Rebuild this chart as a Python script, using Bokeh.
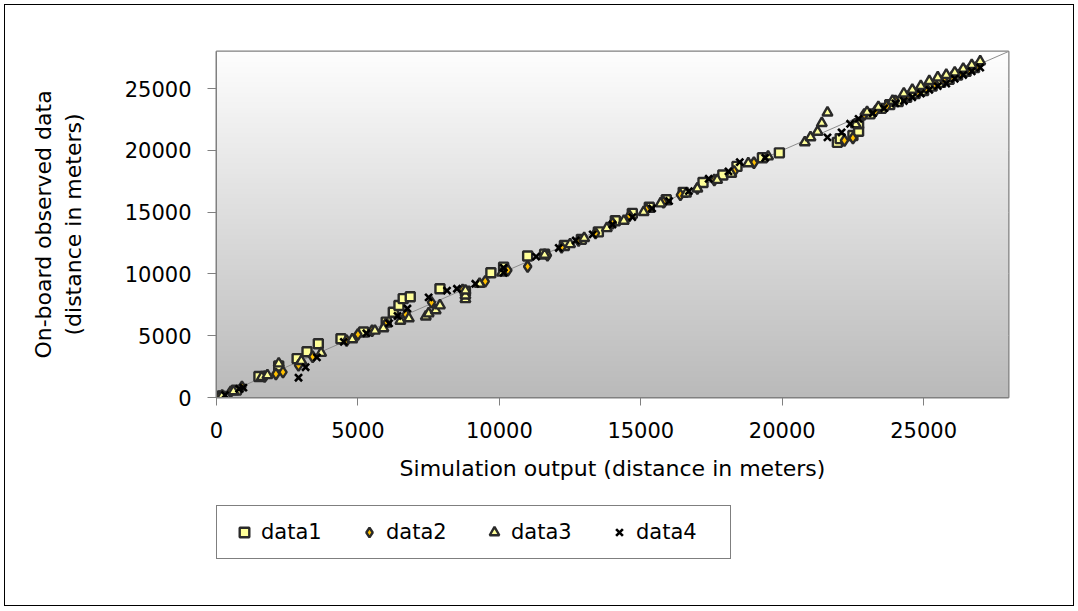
import numpy as np
from bokeh.plotting import figure
from bokeh.layouts import column
from bokeh.models import Range1d, FixedTicker, Legend, LegendItem, InlineStyleSheet
from bokeh.embed import file_html
from bokeh.resources import INLINE

# ---------------- data ----------------
x_ticks = [0, 5000, 10000, 15000, 20000, 25000]
y_ticks = [0, 5000, 10000, 15000, 20000, 25000]

ref_x = [0, 28000]
ref_y = [0, 28000]

series_names = ["data1", "data2", "data3", "data4"]

data1_x = [150, 700, 1500, 2200, 2850, 3200, 3600, 4400, 5200, 6000, 6250, 6450, 6600, 6850, 7900,
           8800, 9700, 10150, 11000, 11600, 12300, 12900, 13500, 14100, 14700, 15300, 15900, 16500,
           17200, 17900, 18400, 19300, 19900, 21950, 22050, 22500, 22700, 22700, 23100, 23500, 23800,
           24100, 24400, 24700, 25000, 25300, 25600, 25900, 26200, 26500, 26800]
data1_y = [100, 600, 1700, 2550, 3150, 3700, 4350, 4750, 5300, 6100, 6900, 7450, 8000, 8150, 8800,
           8600, 10100, 10550, 11450, 11600, 12300, 12800, 13400, 14300, 14900, 15400, 16000, 16600,
           17400, 18000, 18700, 19400, 19800, 20650, 20950, 21200, 21550, 22150, 22950, 23400, 23700,
           23950, 24300, 24600, 24850, 25200, 25500, 25750, 26100, 26400, 26700]

data2_x = [100, 500, 900, 1700, 2100, 2350, 2900, 3400, 4600, 5000, 5500, 6000, 6700, 7600, 8700,
           9500, 10300, 11000, 11700, 12200, 12800, 13400, 14000, 14600, 15200, 15800, 16400, 17000,
           17600, 18300, 19000, 22200, 22500, 22900, 23300, 23700, 24000, 24400, 24800, 25100, 25400,
           25700, 26000, 26300, 26600, 26900]
data2_y = [80, 450, 850, 1700, 1900, 2050, 2600, 3300, 4600, 5100, 5400, 6000, 6700, 7700, 8700,
           9400, 10300, 10600, 11500, 12150, 12700, 13300, 14100, 14700, 15200, 15800, 16400, 16900,
           17600, 18300, 19000, 20800, 21000, 22900, 23200, 23600, 24000, 24350, 24700, 25000, 25350,
           25700, 25950, 26200, 26500, 26800]

data3_x = [200, 600, 1600, 1800, 2200, 3000, 3700, 4800, 5600, 5900, 6500, 6800, 7400, 7500, 7750,
           7900, 8800, 8800, 8800, 9300, 10100, 11600, 12500, 13000, 13800, 14400, 15100, 15700,
           16600, 17000, 17700, 18200, 18800, 19500, 20800, 21000, 21250, 21400, 21600, 22600, 23000,
           23400, 23900, 24300, 24600, 24900, 25200, 25500, 25800, 26100, 26400, 26700, 27000]
data3_y = [150, 500, 1650, 1800, 2750, 2950, 3600, 4700, 5400, 5600, 6200, 6400, 6550, 6800, 7050,
           7450, 7950, 8250, 8650, 9200, 10100, 11550, 12400, 12900, 13700, 14300, 15000, 15700,
           16500, 16900, 17600, 18100, 18950, 19500, 20650, 21050, 21500, 22200, 23050, 22100, 23100,
           23500, 24000, 24600, 24900, 25200, 25600, 25900, 26100, 26300, 26600, 26900, 27200]

data4_x = [300, 800, 950, 2900, 3150, 3550, 4500, 5300, 6100, 6400, 6750, 7500, 8150, 8500, 9150,
           10150, 10150, 11300, 12100, 12700, 13300, 14000, 14700, 15400, 16000, 16700, 17400, 18100,
           18500, 19400, 21600, 22100, 22400, 22700, 23200, 23600, 24000, 24300, 24600, 24900, 25200,
           25500, 25800, 26100, 26400, 26700, 27000]
data4_y = [200, 700, 800, 1600, 2450, 3250, 4500, 5200, 6000, 6600, 7200, 8100, 8650, 8800, 9200,
           10500, 10100, 11400, 12100, 12700, 13200, 14000, 14600, 15300, 15900, 16700, 17700, 18300,
           19050, 19400, 21050, 21450, 22150, 22550, 23000, 23400, 23800, 24000, 24300, 24600, 24900,
           25200, 25400, 25800, 26100, 26400, 26700]

all_x = [data1_x, data2_x, data3_x, data4_x]
all_y = [data1_y, data2_y, data3_y, data4_y]

FONT = "DejaVu Sans"
EDGE = "#2A2A2A"
styles = [
    dict(marker="square", size=9, fill_color="#FFFF99", line_color=EDGE, line_width=2.4),
    dict(marker="diamond", size=11, fill_color="#FFC000", line_color=EDGE, line_width=2.4),
    dict(marker="triangle", size=10, fill_color="#FFFF99", line_color=EDGE, line_width=2.4),
    dict(marker="x", size=10, line_color="black", line_width=2.6),
]

W = 1078
p = figure(width=W, height=497, output_backend="svg", toolbar_location=None,
           x_range=Range1d(0, 28000), y_range=Range1d(0, 28000),
           min_border_left=216, min_border_right=W - 1008, min_border_top=51, min_border_bottom=100)

# gradient background of plot area
rows = 256
g = np.linspace(0xBA, 0xFE, rows).astype(np.uint32)
img = np.empty((rows, 1), dtype=np.uint32)
img[:, 0] = (0xFF << 24) | (g << 16) | (g << 8) | g
p.image_rgba(image=[img], x=0, y=0, dw=28000, dh=28000)

p.background_fill_color = "white"
p.border_fill_color = "white"
p.outline_line_color = "#808080"
p.outline_line_width = 2

p.xgrid.visible = False
p.ygrid.ticker = FixedTicker(ticks=y_ticks)
p.ygrid.grid_line_color = "#C4C4C4"
p.ygrid.grid_line_width = 1

for ax, ticks in ((p.xaxis[0], x_ticks), (p.yaxis[0], y_ticks)):
    ax.ticker = FixedTicker(ticks=ticks)
    ax.axis_line_color = "#808080"
    ax.major_tick_line_color = "#808080"
    ax.major_tick_in = 0
    ax.minor_tick_line_color = None
    ax.major_label_text_font = FONT
    ax.major_label_text_font_size = "21px"
    ax.major_label_text_color = "black"
    ax.axis_label_text_font = FONT
    ax.axis_label_text_font_style = "normal"
    ax.axis_label_text_color = "black"

p.xaxis.axis_label_text_font_size = "22px"
p.yaxis.axis_label_text_font_size = "22px"
p.xaxis.major_tick_out = 8
p.yaxis.major_tick_out = 9
p.xaxis.major_label_standoff = 16
p.yaxis.major_label_standoff = 16
p.xaxis.axis_label = "Simulation output (distance in meters)"
p.yaxis.axis_label = "On-board observed data\n(distance in meters)"
p.xaxis.axis_label_standoff = 15
p.yaxis.axis_label_standoff = 36

p.line(ref_x, ref_y, line_color="#8C8C8C", line_width=1)

for xs, ys, st in zip(all_x, all_y, styles):
    p.scatter(xs, ys, **st)

# legend strip: its own small canvas so the legend is not clipped by the plot frame.
# The series are drawn again here but fall outside this canvas' 0..1 ranges (only the legend shows).
lf = figure(width=W, height=113, output_backend="svg", toolbar_location=None,
            x_range=Range1d(0, 1), y_range=Range1d(0, 1),
            min_border_left=198, min_border_top=8, min_border_right=0, min_border_bottom=0)
lf.axis.visible = False
lf.grid.visible = False
lf.outline_line_color = None
lf.background_fill_color = "white"
lf.border_fill_color = "white"

items = []
for name, xs, ys, st in zip(series_names, all_x, all_y, styles):
    r = lf.scatter(xs, ys, **st)
    items.append(LegendItem(label=name, renderers=[r]))

legend = Legend(items=items, orientation="horizontal", location="top_left")
legend.label_text_font = FONT
legend.label_text_font_size = "21px"
legend.label_text_color = "black"
legend.border_line_color = "black"
legend.border_line_width = 1
legend.background_fill_color = "white"
legend.background_fill_alpha = 1.0
legend.glyph_width = 26
legend.glyph_height = 24
legend.label_standoff = 4
legend.label_width = 80
legend.spacing = 15
legend.padding = 14
legend.margin = 0
lf.add_layout(legend)

page = column(p, lf, spacing=0)
page.stylesheets = [InlineStyleSheet(css=(
    ":host { position: relative; }\n"
    ":host::after { content: ''; position: absolute; left: 4px; top: 4px; right: 4px; bottom: 4px; "
    "border: 1px solid black; pointer-events: none; z-index: 100; }"))]

open("out.html", "w").write(file_html(page, INLINE))
